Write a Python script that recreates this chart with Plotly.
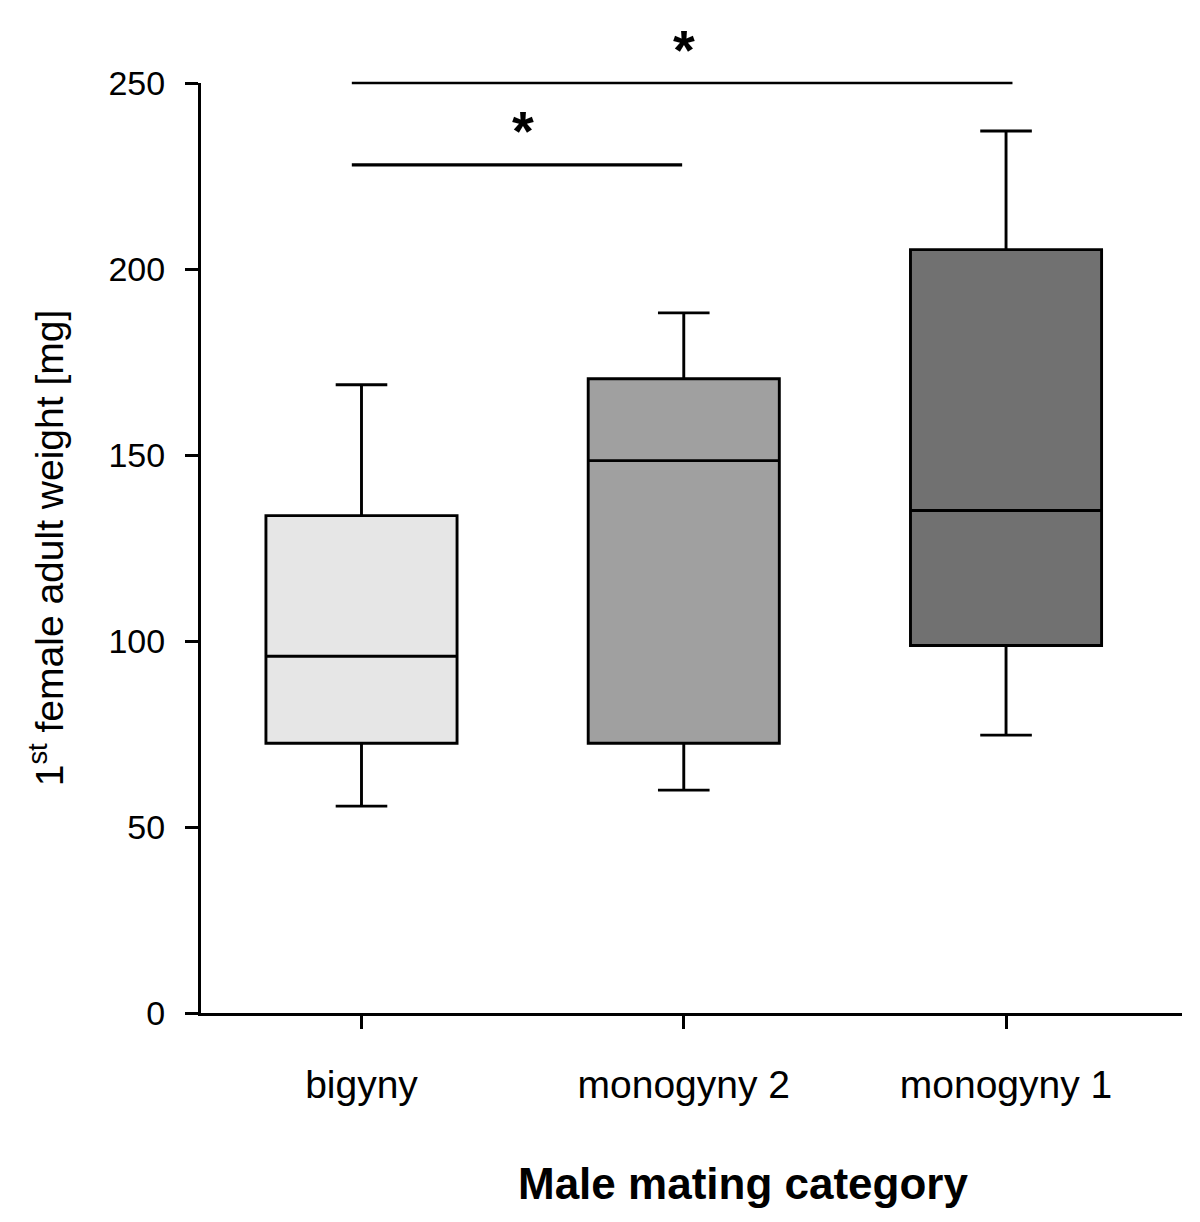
import plotly.graph_objects as go

categories = ["bigyny", "monogyny 2", "monogyny 1"]
q1 = [72.5, 72.5, 98.8]
median = [95.9, 148.5, 135.1]
q3 = [133.7, 170.5, 205.2]
lower_whisker = [55.6, 59.9, 74.7]
upper_whisker = [168.9, 188.2, 237.1]
fill_colors = ["#e6e6e6", "#a0a0a0", "#717171"]

y_ticks = [0, 50, 100, 150, 200, 250]
y_max = 250

x_title = "Male mating category"
y_title = "1<sup>st</sup> female adult weight [mg]"

# significance brackets: (from category index, to category index, level, label)
sig_from = [0, 0]
sig_to = [1, 2]
sig_level = [228, 250]
sig_label = ["*", "*"]
sig_end_pad = [-0.005, 0.02]
sig_width = [3.2, 2.6]

FONT = "Liberation Sans, Arial, sans-serif"

fig = go.Figure()
for i, c in enumerate(categories):
    fig.add_trace(go.Box(
        x=[c], q1=[q1[i]], median=[median[i]], q3=[q3[i]],
        lowerfence=[lower_whisker[i]], upperfence=[upper_whisker[i]],
        fillcolor=fill_colors[i],
        line=dict(color="black", width=2.9),
        whiskerwidth=0.27, width=0.593,
        boxpoints=False, showlegend=False, hoverinfo="skip",
    ))

for a, b, lvl, lab, pad, w in zip(sig_from, sig_to, sig_level, sig_label, sig_end_pad, sig_width):
    fig.add_shape(type="line", xref="x", yref="paper",
                  x0=a - 0.03, x1=b + pad,
                  y0=lvl / y_max, y1=lvl / y_max,
                  line=dict(color="black", width=w))
    fig.add_annotation(x=(a + b) / 2, y=lvl / y_max, xref="x", yref="paper",
                       text="<b>" + lab + "</b>", showarrow=False,
                       yanchor="middle", yshift=34,
                       font=dict(family=FONT, size=56, color="black"))

# x-axis title (placed slightly right of centre, as in the original figure)
fig.add_annotation(x=0.5525, y=0, xref="paper", yref="paper",
                   text="<b>" + x_title + "</b>", showarrow=False,
                   xanchor="center", yanchor="middle", yshift=-170,
                   font=dict(family=FONT, size=44, color="black"))

fig.update_layout(
    width=1200, height=1222,
    margin=dict(l=193, r=26, t=75, b=217),
    plot_bgcolor="white", paper_bgcolor="white",
    font=dict(family=FONT, color="black"),
    xaxis=dict(
        type="category", categoryorder="array", categoryarray=categories,
        range=[-0.498, 2.546],
        showline=True, linecolor="black", linewidth=3,
        ticks="outside", ticklen=13, tickwidth=2.6, tickcolor="black",
        ticklabelstandoff=22,
        tickfont=dict(family=FONT, size=39, color="black"),
        showgrid=False, zeroline=False,
    ),
    yaxis=dict(
        range=[0, y_max], tickvals=y_ticks,
        showline=True, linecolor="black", linewidth=3,
        ticks="outside", ticklen=13, tickwidth=2.6, tickcolor="black",
        ticklabelstandoff=13,
        tickfont=dict(family=FONT, size=34, color="black"),
        showgrid=False, zeroline=False,
        title=dict(text=y_title, standoff=33,
                   font=dict(family=FONT, size=39, color="black")),
    ),
)

fig.write_html("out.html")
